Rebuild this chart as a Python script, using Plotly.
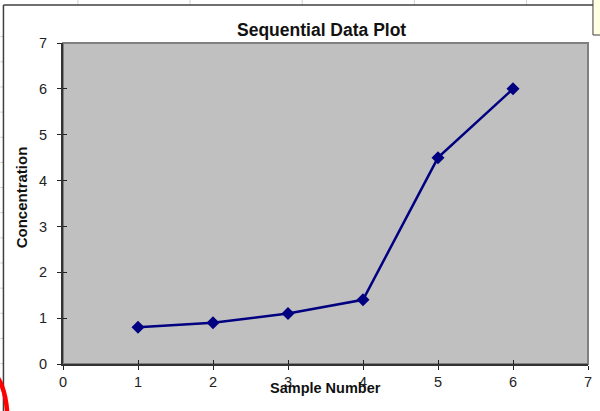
import plotly.graph_objects as go

# Sample data
sample_number = [1, 2, 3, 4, 5, 6]
concentration = [0.8, 0.9, 1.1, 1.4, 4.5, 6.0]
tick_values = [0, 1, 2, 3, 4, 5, 6, 7]

W, H = 600, 411
ML, MR, MT, MB = 63, 8, 43, 47
PW, PH = W - ML - MR, H - MT - MB

FONT = "Arial, Liberation Sans, sans-serif"


def px_x(px):
    return (px - ML) / PW


def px_y(py):
    return 1 - (py - MT) / PH


fig = go.Figure()
fig.add_trace(go.Scatter(
    x=sample_number, y=concentration, mode="lines+markers",
    line=dict(color="#000080", width=2.5),
    marker=dict(symbol="diamond", size=10, color="#000080"),
    showlegend=False, hoverinfo="skip",
))
# invisible trace on secondary axes so crossing tick marks are drawn
fig.add_trace(go.Scatter(x=[None], y=[None], xaxis="x2", yaxis="y2",
                         showlegend=False, hoverinfo="skip"))

axis_common = dict(range=[0, 7], tickvals=tick_values, showgrid=False,
                   zeroline=False, ticklen=4, tickwidth=1, tickcolor="#222")
fig.update_layout(
    width=W, height=H,
    margin=dict(l=ML, r=MR, t=MT, b=MB, pad=0),
    paper_bgcolor="white", plot_bgcolor="#C0C0C0",
    xaxis=dict(**axis_common, ticks="outside", showline=True, linecolor="#333",
               linewidth=2, tickfont=dict(family=FONT, size=14.5, color="#222"),
               ticklabelstandoff=0),
    yaxis=dict(**axis_common, ticks="outside", showline=True, linecolor="#333",
               linewidth=2, tickfont=dict(family=FONT, size=14.5, color="#222"),
               ticklabelstandoff=7),
    xaxis2=dict(**axis_common, ticks="inside", overlaying="x", showticklabels=False,
                showline=False),
    yaxis2=dict(**axis_common, ticks="inside", overlaying="y", showticklabels=False,
                showline=False),
)

shapes = []
# plot area frame (top/right edges)
shapes.append(dict(type="rect", xref="x domain", yref="y domain", x0=0, x1=1, y0=0, y1=1,
                   line=dict(color="#808080", width=2), layer="below"))
# spreadsheet cell lines around the chart object
for cx in [78, 191, 304, 417, 530]:
    shapes.append(dict(type="line", xref="paper", yref="paper",
                       x0=px_x(cx), x1=px_x(cx), y0=px_y(0), y1=px_y(5),
                       line=dict(color="#D0D0D0", width=1)))
for k in range(1, 16):
    ry = 11.5 + 25.15 * k
    shapes.append(dict(type="line", xref="paper", yref="paper",
                       x0=px_x(0), x1=px_x(2.5), y0=px_y(ry), y1=px_y(ry),
                       line=dict(color="#C8C8C8", width=1)))
# chart object border
shapes.append(dict(type="line", xref="paper", yref="paper",
                   x0=px_x(3), x1=px_x(597), y0=px_y(5), y1=px_y(5),
                   line=dict(color="#404040", width=1.5)))
shapes.append(dict(type="line", xref="paper", yref="paper",
                   x0=px_x(3), x1=px_x(3), y0=px_y(5), y1=px_y(411),
                   line=dict(color="#404040", width=1.5)))
# tooltip box at the top right
shapes.append(dict(type="rect", xref="paper", yref="paper",
                   x0=px_x(597), x1=px_x(605), y0=px_y(35), y1=px_y(-2),
                   fillcolor="#FFFFE1", line=dict(color="#404040", width=1)))
# red highlight ring (partially visible)
shapes.append(dict(type="circle", xref="paper", yref="paper",
                   x0=px_x(-30), x1=px_x(7), y0=px_y(470), y1=px_y(372),
                   line=dict(color="#FF0000", width=4.5)))
fig.update_layout(shapes=shapes)

annotations = [
    dict(text="<b>Sequential Data Plot</b>", xref="paper", yref="paper",
         x=px_x(323), y=px_y(30), xanchor="center", yanchor="middle", showarrow=False,
         font=dict(family=FONT, size=17.5, color="#111")),
    dict(text="<b>Sample Number</b>", xref="paper", yref="paper",
         x=px_x(327.5), y=px_y(388), xanchor="center", yanchor="middle", showarrow=False,
         font=dict(family=FONT, size=14.5, color="#111")),
    dict(text="<b>Concentration</b>", xref="paper", yref="paper",
         x=px_x(21), y=px_y(197), xanchor="center", yanchor="middle", showarrow=False,
         textangle=-90, font=dict(family=FONT, size=15, color="#111")),
]
fig.update_layout(annotations=annotations)

fig.write_html("out.html")
